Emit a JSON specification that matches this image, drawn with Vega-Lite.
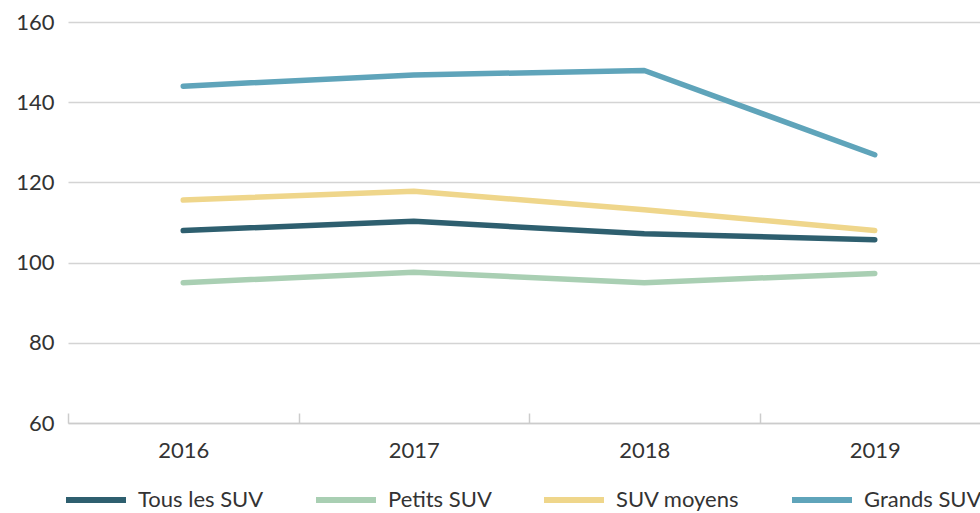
{
  "$schema": "https://vega.github.io/schema/vega-lite/v6.json",
  "autosize": {"type": "none"},
  "padding": {"left": 68, "top": 22, "right": 0, "bottom": 90},
  "width": 912,
  "height": 401,
  "background": "white",
  "config": {
    "view": {"stroke": null},
    "font": "Lato",
    "axis": {"labelFont": "Lato", "labelFontSize": 22, "labelColor": "#333333", "titleFont": "Lato"},
    "legend": {"labelFont": "Lato", "labelFontSize": 22, "labelColor": "#333333"}
  },
  "data": {
    "values": [
      {"annee": "2016", "serie": "Tous les SUV", "valeur": 108.0},
      {"annee": "2017", "serie": "Tous les SUV", "valeur": 110.3},
      {"annee": "2018", "serie": "Tous les SUV", "valeur": 107.2},
      {"annee": "2019", "serie": "Tous les SUV", "valeur": 105.7},
      {"annee": "2016", "serie": "Petits SUV", "valeur": 95.0},
      {"annee": "2017", "serie": "Petits SUV", "valeur": 97.6},
      {"annee": "2018", "serie": "Petits SUV", "valeur": 95.0},
      {"annee": "2019", "serie": "Petits SUV", "valeur": 97.3},
      {"annee": "2016", "serie": "SUV moyens", "valeur": 115.6},
      {"annee": "2017", "serie": "SUV moyens", "valeur": 117.8},
      {"annee": "2018", "serie": "SUV moyens", "valeur": 113.2},
      {"annee": "2019", "serie": "SUV moyens", "valeur": 108.0},
      {"annee": "2016", "serie": "Grands SUV", "valeur": 144.0},
      {"annee": "2017", "serie": "Grands SUV", "valeur": 146.8},
      {"annee": "2018", "serie": "Grands SUV", "valeur": 147.9},
      {"annee": "2019", "serie": "Grands SUV", "valeur": 126.9}
    ]
  },
  "mark": {"type": "line", "strokeWidth": 5.5, "strokeCap": "round", "strokeJoin": "round"},
  "encoding": {
    "x": {
      "field": "annee",
      "type": "ordinal",
      "scale": {"type": "band", "range": [0, 922], "paddingInner": 0, "paddingOuter": 0},
      "axis": {
        "title": null,
        "labelAngle": 0,
        "domainColor": "#cccccc",
        "domainWidth": 1.5,
        "tickBand": "extent",
        "tickColor": "#cccccc",
        "tickWidth": 1.5,
        "tickSize": -10,
        "labelPadding": 27,
        "grid": false
      }
    },
    "y": {
      "field": "valeur",
      "type": "quantitative",
      "scale": {"domain": [60, 160], "nice": false, "zero": false},
      "axis": {
        "title": null,
        "values": [60, 80, 100, 120, 140, 160],
        "domain": false,
        "ticks": false,
        "labelPadding": 14,
        "gridColor": "#d4d4d4",
        "gridWidth": 1.5
      }
    },
    "color": {
      "field": "serie",
      "type": "nominal",
      "scale": {
        "domain": ["Tous les SUV", "Petits SUV", "SUV moyens", "Grands SUV"],
        "range": ["#2e5f6f", "#a9cfb3", "#efd68b", "#5fa4ba"]
      },
      "legend": {
        "title": null,
        "orient": "none",
        "direction": "horizontal",
        "legendX": -5,
        "legendY": 445,
        "symbolType": "stroke",
        "symbolSize": 3600,
        "symbolStrokeWidth": 6,
        "labelOffset": 9,
        "columnPadding": 40
      }
    }
  }
}
